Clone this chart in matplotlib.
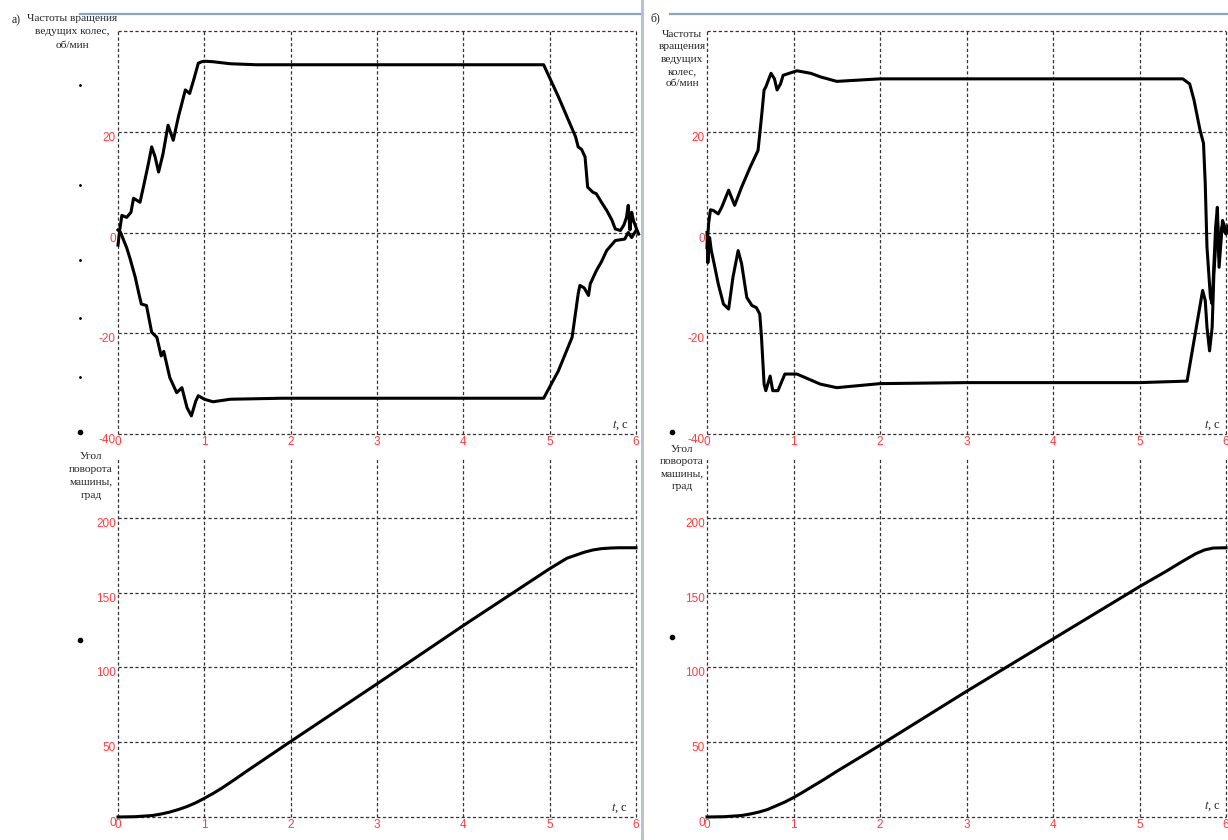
import matplotlib
matplotlib.use("Agg")
import matplotlib.pyplot as plt
import numpy as np

plt.rcParams["mathtext.fontset"] = "stix"

W, H = 1228, 840

# ---- data ----
# а) wheel speeds, rpm
a_up_t = [0, 0.02, 0.045, 0.1, 0.15, 0.18, 0.255, 0.3, 0.35, 0.39, 0.43, 0.47, 0.52, 0.58, 0.64,
          0.7, 0.78, 0.83, 0.88, 0.93, 0.97, 1.0, 1.1, 1.3, 1.6, 2.0, 3.0, 4.0, 4.93, 5.1, 5.26,
          5.3, 5.33, 5.37, 5.41, 5.44, 5.5, 5.54, 5.6, 5.66, 5.72, 5.76, 5.82, 5.86, 5.89, 5.91,
          5.93, 5.95, 5.97, 6.0, 6.03]
a_up_v = [-2.5, 0.5, 3.4, 3.0, 4.0, 6.8, 6.0, 9.5, 13.5, 17, 15, 12, 15.5, 21.3, 18.3,
          23, 28.3, 27.6, 30.5, 33.6, 33.9, 34.0, 33.9, 33.5, 33.3, 33.3, 33.3, 33.3, 33.3, 27, 20.6,
          19, 17, 16.5, 15, 9.0, 8.0, 7.7, 6.0, 4.4, 2.5, 0.7, 0.4, 1.5, 3.0, 5.4,
          0.5, 4.0, 2.4, 1.0, -0.3]
a_lo_t = [0, 0.03, 0.06, 0.1, 0.14, 0.2, 0.24, 0.27, 0.33, 0.39, 0.45, 0.5, 0.53, 0.6, 0.68,
          0.74, 0.8, 0.85, 0.9, 0.93, 0.97, 1.0, 1.1, 1.3, 1.9, 3.0, 4.0, 4.93, 5.1, 5.26, 5.33,
          5.35, 5.4, 5.45, 5.47, 5.54, 5.6, 5.66, 5.76, 5.87, 5.91, 5.95, 6.0]
a_lo_v = [0.5, 0, -1.3, -3.0, -5.2, -8.9, -12, -14.2, -14.5, -19.8, -20.8, -24.5, -23.6, -28.8, -31.8,
          -30.8, -34.8, -36.4, -33.5, -32.4, -32.8, -33.1, -33.6, -33.1, -32.9, -32.9, -32.9, -32.9, -27.5, -20.8, -12.2,
          -10.5, -11, -12.5, -10.2, -7.6, -5.8, -3.6, -1.6, -1.3, 0, -1.0, 0.4]

# б) wheel speeds, rpm
b_up_t = [0, 0.02, 0.04, 0.07, 0.13, 0.17, 0.25, 0.32, 0.4, 0.5, 0.59, 0.63, 0.66, 0.68, 0.74,
          0.78, 0.81, 0.85, 0.88, 0.95, 1.04, 1.2, 1.31, 1.5, 1.7, 2.0, 3.0, 4.0, 5.0, 5.5, 5.58,
          5.63, 5.7, 5.74, 5.76, 5.78, 5.82, 5.84, 5.88, 5.9, 5.92, 5.96, 6.0, 6.03]
b_up_v = [-3, 2, 4.5, 4.4, 3.7, 5.0, 8.4, 5.4, 9, 13, 16.3, 22.9, 28.3, 28.9, 31.6,
          30.5, 28.3, 29.5, 31.2, 31.6, 32.1, 31.6, 30.9, 30.0, 30.2, 30.5, 30.5, 30.5, 30.5, 30.5, 29.5,
          26.3, 20.3, 17.7, 9.7, -2.9, -12.9, -14.2, 1, 5, -6.9, 2.4, 0.4, 1.4]
b_lo_t = [0, 0.01, 0.03, 0.05, 0.08, 0.13, 0.19, 0.25, 0.3, 0.36, 0.4, 0.46, 0.52, 0.57, 0.61,
          0.63, 0.66, 0.68, 0.73, 0.76, 0.82, 0.9, 1.04, 1.31, 1.5, 2.0, 3.0, 4.0, 5.0, 5.55,
          5.73, 5.76, 5.78, 5.81, 5.84, 5.86, 5.9, 5.92, 5.95, 6.0, 6.03]
b_lo_v = [0, -6, -1, -3.6, -6, -10.2, -14.2, -15.2, -8.9, -3.6, -6.2, -12.9, -14.5, -14.9, -16.2,
          -20.8, -30.1, -31.4, -28.5, -31.4, -31.4, -28.1, -28.1, -30.1, -30.8, -30.0, -29.8, -29.8, -29.8, -29.5,
          -11.5, -13.5, -18.8, -23.5, -18.8, -8.2, 3, -4.9, 1, -0.3, 0.5]

# turning angle, deg
a_ang_t = [0, 0.2, 0.4, 0.5, 0.6, 0.7, 0.8, 0.9, 1.0, 1.1, 1.2, 1.35, 1.5, 2, 3, 4, 5,
           5.2, 5.4, 5.5, 5.6, 5.7, 5.8, 6.0]
a_ang_v = [0, 0.2, 1, 2, 3.3, 5, 7, 9.5, 12.5, 15.7, 19.2, 25, 31, 50.5, 89, 128, 166,
           173, 177, 178.5, 179.4, 179.8, 180, 180]
b_ang_t = [0, 0.2, 0.4, 0.5, 0.6, 0.7, 0.8, 0.9, 1.0, 1.1, 1.2, 1.35, 1.5, 2, 3, 4, 5,
           5.3, 5.5, 5.65, 5.75, 5.85, 6.0]
b_ang_v = [0, 0.2, 1, 2, 3.3, 5, 7.5, 10, 13, 16.3, 19.8, 25, 30.5, 48, 84, 119, 154,
           164, 171, 176, 178.5, 179.8, 180]

x_ticks = [0, 1, 2, 3, 4, 5, 6]
speed_ticks = [-40, -20, 0, 20, 40]
speed_labels = ["-40", "-20", "0", "20", ""]
angle_ticks = [0, 50, 100, 150, 200]

RED = "#ff3d3d"
SERIF = "Liberation Serif"


def fx(x):
    return x / W


def fy(y):
    return 1 - y / H


def make_axes(x0, x1, y_top, y_bot, ylim, yticks, ylabels, top_line):
    ax = fig.add_axes([fx(x0), fy(y_bot), fx(x1 - x0), (y_bot - y_top) / H])
    ax.set_xlim(0, 6)
    ax.set_ylim(*ylim)
    for s in ax.spines.values():
        s.set_visible(False)
    ax.set_xticks(x_ticks)
    ax.set_xticklabels([str(v) for v in x_ticks])
    ax.set_yticks(yticks)
    ax.set_yticklabels(ylabels)
    ax.tick_params(length=0, colors=RED, labelsize=8.5, pad=1.5)
    for lab in ax.get_yticklabels():
        lab.set_va("top")
        lab.set_family("Liberation Sans")
    for lab in ax.get_xticklabels():
        lab.set_family("Liberation Sans")
    gkw = dict(color="#333333", lw=0.9, ls=(0, (2.6, 1.9)), zorder=1, clip_on=False)
    for v in x_ticks:
        ax.axvline(v, **gkw)
    for v in yticks:
        if v < ylim[1] or top_line:
            ax.axhline(v, **gkw)
    ax.patch.set_visible(False)
    return ax


fig = plt.figure(figsize=(W / 100, H / 100), dpi=100)

lw = 2.2
# left panel
ax1 = make_axes(118, 636, 31, 434, (-40, 40), speed_ticks, speed_labels, True)
ax1.plot(a_up_t, a_up_v, color="black", lw=lw, clip_on=False, zorder=3)
ax1.plot(a_lo_t, a_lo_v, color="black", lw=lw, clip_on=False, zorder=3)

ax2 = make_axes(118, 636, 458, 817, (0, 240), angle_ticks, [str(v) for v in angle_ticks], False)
ax2.plot(a_ang_t, a_ang_v, color="black", lw=lw, clip_on=False, zorder=3)

# right panel
ax3 = make_axes(707, 1226, 31, 434, (-40, 40), speed_ticks, speed_labels, True)
ax3.plot(b_up_t, b_up_v, color="black", lw=lw, clip_on=False, zorder=3)
ax3.plot(b_lo_t, b_lo_v, color="black", lw=lw, clip_on=False, zorder=3)

ax4 = make_axes(707, 1226, 458, 817, (0, 240), angle_ticks, [str(v) for v in angle_ticks], False)
ax4.plot(b_ang_t, b_ang_v, color="black", lw=lw, clip_on=False, zorder=3)

# axis captions
tkw = dict(family=SERIF, fontsize=8.2, color="#222222", ha="center", va="top",
           multialignment="center")
fig.text(fx(16), fy(14), "а)", family=SERIF, fontsize=8.5, color="#222222", ha="center", va="top")
fig.text(fx(72), fy(14), "Частоты вращения\nведущих колес,\nоб/мин", linespacing=1.62, **tkw)
fig.text(fx(91), fy(452), "Угол\nповорота\nмашины,\nград", linespacing=1.55, **tkw)

fig.text(fx(655), fy(12), "б)", family=SERIF, fontsize=8.5, color="#222222", ha="center", va="top")
fig.text(fx(682), fy(30), "Частоты\nвращения\nведущих\nколес,\nоб/мин", linespacing=1.48, **tkw)
fig.text(fx(682), fy(445), "Угол\nповорота\nмашины,\nград", linespacing=1.48, **tkw)

for (x, y) in [(620, 425), (619, 808), (1212, 425), (1212, 806)]:
    fig.text(fx(x), fy(y), "$t$, с", family=SERIF, fontsize=9, color="#222222",
             ha="center", va="center")

# page frame remnants
fig.add_artist(plt.Line2D([fx(642), fx(642)], [0, 1], color="#b4c4d6", lw=2.2))
fig.add_artist(plt.Line2D([fx(80), fx(640)], [fy(14), fy(14)], color="#8ea4c2", lw=1.6))
fig.add_artist(plt.Line2D([fx(670), 1], [fy(14), fy(14)], color="#8ea4c2", lw=1.6))

# stray marks
for (x, y, s) in [(80, 432, 3), (80, 640, 3), (672, 432, 3), (672, 637, 3),
                  (80, 85, 1), (80, 185, 1), (80, 260, 1), (80, 318, 1), (80, 377, 1)]:
    fig.add_artist(plt.Line2D([fx(x)], [fy(y)], marker="o", ms=s, color="black", lw=0))

fig.savefig("out.png", dpi=100)
